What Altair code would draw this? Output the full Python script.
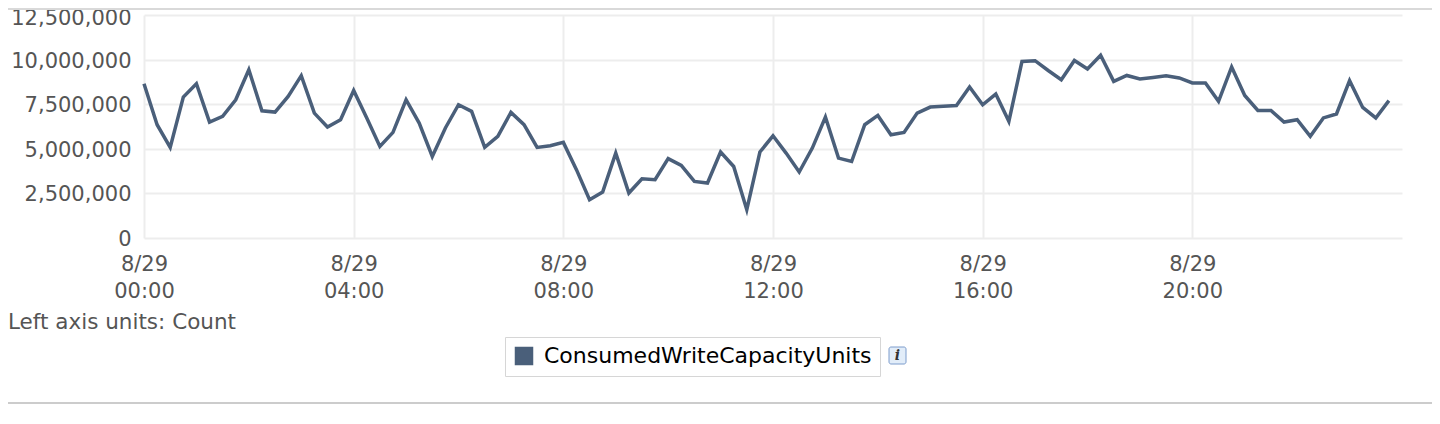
import altair as alt
import pandas as pd

# ConsumedWriteCapacityUnits, 15-minute samples on 8/29 (values in millions)
values_m = [
    8.65, 6.35, 5.08, 7.90, 8.65, 6.50, 6.82, 7.75, 9.43, 7.13, 7.06, 7.94,
    9.10, 7.00, 6.22, 6.63, 8.27, 6.72, 5.13, 5.92, 7.75, 6.44, 4.57, 6.17,
    7.47, 7.10, 5.08, 5.70, 7.04, 6.35, 5.08, 5.17, 5.36, 3.83, 2.15, 2.58,
    4.76, 2.52, 3.32, 3.27, 4.45, 4.07, 3.17, 3.08, 4.82, 4.01, 1.59, 4.82,
    5.73, 4.76, 3.70, 5.04, 6.78, 4.48, 4.29, 6.35, 6.87, 5.79, 5.92, 7.00,
    7.34, 7.38, 7.43, 8.46, 7.47, 8.07, 6.54, 9.90, 9.94, 9.39, 8.87, 9.95,
    9.47, 10.24, 8.78, 9.11, 8.91, 9.00, 9.10, 8.97, 8.69, 8.69, 7.66, 9.59,
    7.99, 7.15, 7.15, 6.50, 6.63, 5.70, 6.73, 6.95, 8.82, 7.32, 6.73, 7.70,
]
times = pd.date_range("2013-08-29 00:00", periods=len(values_m), freq="15min")
series_name = "ConsumedWriteCapacityUnits"
y_ticks = [0, 2500000, 5000000, 7500000, 10000000, 12500000]
x_tick_hours = [0, 4, 8, 12, 16, 20]
units_text = "Left axis units: Count"

df = pd.DataFrame({
    "time": times.strftime("%Y-%m-%dT%H:%M:%S"),
    "value": [v * 1_000_000 for v in values_m],
    "series": series_name,
})

LINE = "#4a5f7a"
FONT = "DejaVu Sans"
W, H = 1258, 223

x_domain = [alt.DateTime(year=2013, month=8, date=29, hours=0),
            alt.DateTime(year=2013, month=8, date=30, hours=0)]
x_values = [alt.DateTime(year=2013, month=8, date=29, hours=h) for h in x_tick_hours]

line = alt.Chart(df).mark_line(strokeWidth=3.5).encode(
    x=alt.X("time:T", scale=alt.Scale(domain=x_domain),
            axis=alt.Axis(values=x_values, title=None, grid=True, gridColor="#ededed",
                          gridWidth=2, domain=False, ticks=False, tickSize=0,
                          labelExpr="[timeFormat(datum.value, '%-m/%d'), timeFormat(datum.value, '%H:%M')]",
                          labelFont=FONT, labelFontSize=21, labelColor="#555555",
                          labelPadding=15, labelLineHeight=27, labelFlush=False,
                          labelOverlap=False, labelBound=False)),
    y=alt.Y("value:Q", scale=alt.Scale(domain=[0, 12500000], nice=False),
            axis=alt.Axis(values=y_ticks, format=",d", title=None, grid=True,
                          gridColor="#ededed", gridWidth=2, domain=False, ticks=False,
                          tickSize=0, labelFont=FONT, labelFontSize=21,
                          labelColor="#555555", labelPadding=13,
                          labelOffset={"condition": {"test": "datum.value >= 12500000",
                                                     "value": 3.5},
                                       "value": 1.5})),
    color=alt.Color("series:N", scale=alt.Scale(range=[LINE]),
                    legend=alt.Legend(title=None, orient="none", legendX=361, legendY=322,
                                      symbolType="square", symbolSize=289,
                                      symbolFillColor=LINE, symbolStrokeWidth=1.5,
                                      labelFont=FONT, labelFontSize=22, labelColor="black",
                                      labelLimit=0, strokeColor="#d6d6d6", padding=8,
                                      labelOffset=9)),
)

one = pd.DataFrame({"a": [0]})

top_rule = alt.Chart(one).mark_rule(color="#d9d9d9", strokeWidth=2).encode(
    x=alt.value(-136), x2=alt.value(1288), y=alt.value(-6))
bottom_rule = alt.Chart(one).mark_rule(color="#cccccc", strokeWidth=2).encode(
    x=alt.value(-136), x2=alt.value(1288), y=alt.value(388))
units = alt.Chart(one).mark_text(align="left", baseline="alphabetic", font=FONT,
                                 fontSize=21.5, color="#555555").encode(
    x=alt.value(-136), y=alt.value(314), text=alt.value(units_text))
info_box = alt.Chart(one).mark_rect(fill="#e2edf9", stroke="#7d9ccc", strokeWidth=1,
                                    cornerRadius=2).encode(
    x=alt.value(745), x2=alt.value(762), y=alt.value(332), y2=alt.value(349))
info_i = alt.Chart(one).mark_text(font="DejaVu Serif", fontSize=14, fontStyle="italic",
                                  fontWeight="bold", color="#333333",
                                  baseline="middle", align="center").encode(
    x=alt.value(753.5), y=alt.value(341), text=alt.value("i"))

chart = alt.layer(line, top_rule, bottom_rule, units, info_box, info_i).properties(
    width=W, height=H,
    autosize=alt.AutoSizeParams(type="none"),
    padding={"left": 136, "top": 7, "right": 30, "bottom": 168},
).configure_view(stroke=None)

chart.save("out.html", embed_options={"renderer": "svg", "actions": False})
